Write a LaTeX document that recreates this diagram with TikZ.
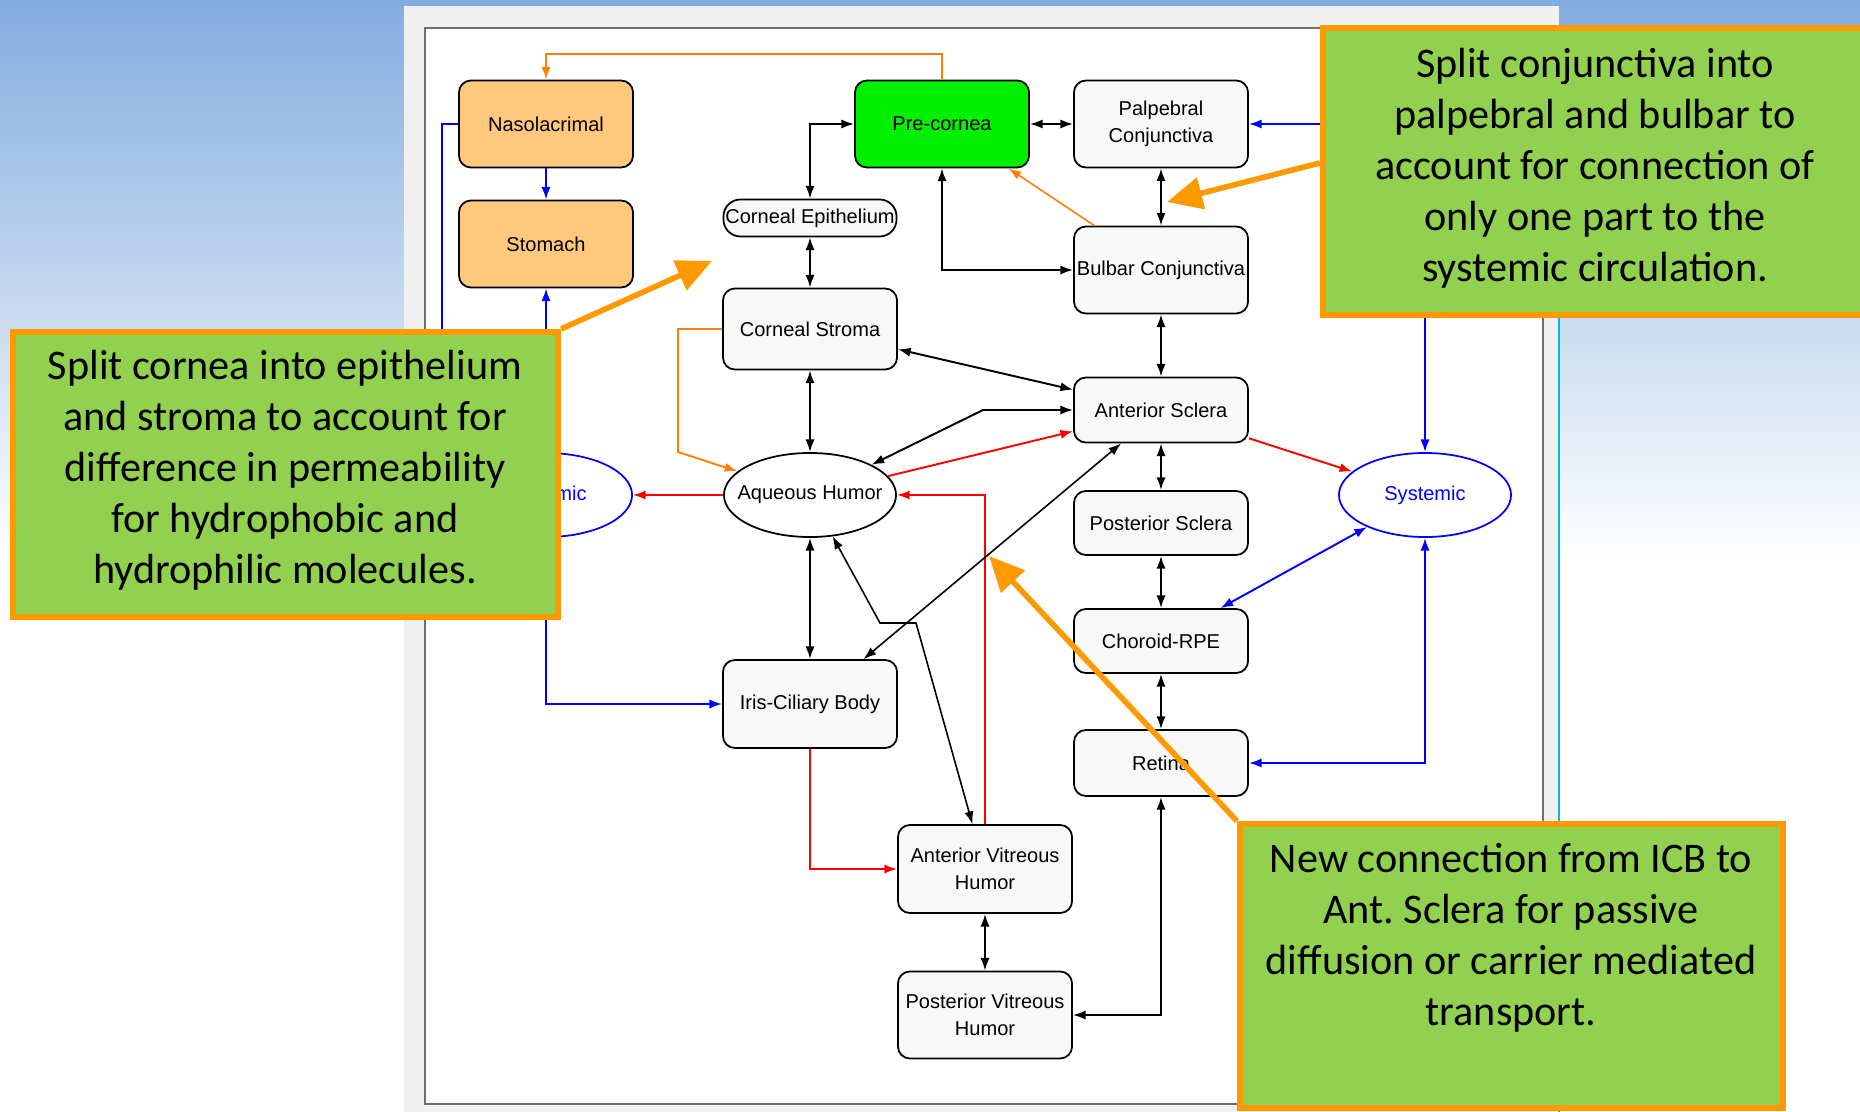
\documentclass[tikz,border=0pt]{standalone}
\usepackage{fontspec}
\setmainfont{Liberation Sans}
\newfontfamily\callfont{Carlito}
\usetikzlibrary{arrows.meta,shapes.geometric}
\definecolor{slideblue}{RGB}{131,172,223}
\definecolor{panelgray}{RGB}{240,240,240}
\definecolor{framegray}{RGB}{110,110,110}
\definecolor{boxfill}{RGB}{248,248,248}
\definecolor{nasofill}{RGB}{255,200,125}
\definecolor{precfill}{RGB}{0,240,0}
\definecolor{conorange}{RGB}{255,128,0}
\definecolor{callgreen}{RGB}{146,208,80}
\definecolor{callorange}{RGB}{255,153,0}
\definecolor{edgecyan}{RGB}{0,190,210}
\definecolor{sysblue}{RGB}{0,0,255}
\definecolor{conred}{RGB}{255,0,0}
\frenchspacing
\begin{document}
\begin{tikzpicture}[x=0.01cm,y=-0.01cm,
  comp/.style={draw=black,line width=0.5pt,rounded corners=0.12cm,fill=boxfill,
    minimum width=1.74cm,minimum height=0.87cm,inner sep=0pt,align=center,
    font=\fontsize{5.7}{7.6}\selectfont},
  oval/.style={ellipse,draw=black,line width=0.5pt,fill=white,minimum width=1.72cm,
    minimum height=0.84cm,inner sep=0pt,font=\fontsize{5.7}{7.6}\selectfont},
  sysoval/.style={oval,draw=sysblue,text=sysblue},
  con/.style={line width=0.55pt},
  thinline/.style={line width=0.45pt},
  hd/.style={-{Latex[length=3.6pt,width=2.6pt]}},
  dh/.style={{Latex[length=3.6pt,width=2.6pt]}-{Latex[length=3.6pt,width=2.6pt]}},
  callbox/.style={fill=callgreen,draw=callorange,line width=1.7pt,inner sep=0pt},
  calltext/.style={font=\callfont\fontsize{12}{14.5}\selectfont,align=center,inner sep=0pt},
  pointer/.style={draw=callorange,line width=1.6pt,-{Triangle[length=10pt,width=9pt]}}
]
\useasboundingbox (0,0) rectangle (1860,1112);
% slide background
\fill[white] (0,0) rectangle (1860,1112);
\shade[top color=slideblue,bottom color=white] (0,0) rectangle (1860,560);
% window panel
\fill[panelgray] (404,6) rectangle (1559,1112);
\draw[edgecyan,line width=0.4pt] (1559,315) -- (1559,1112);
\draw[framegray,line width=0.6pt,fill=white] (425,28) rectangle (1543,1104);

% compartments
\node[comp,fill=nasofill] (naso) at (546,124) {Nasolacrimal};
\node[comp,fill=nasofill] (stomach) at (546,244) {Stomach};
\node[comp,fill=precfill] (precornea) at (942,124) {Pre-cornea};
\node[comp] (palpebral) at (1161,124) {Palpebral\\Conjunctiva};
\node[comp,minimum height=0.37cm,minimum width=1.73cm,rounded corners=0.17cm] (epi) at (810,218) {Corneal Epithelium};
\node[comp] (bulbar) at (1161,270) {Bulbar Conjunctiva};
\node[comp,minimum height=0.81cm] (stroma) at (810,329) {Corneal Stroma};
\node[oval] (aqueous) at (810,495) {\makebox[0pt]{Aqueous Humor}};
\node[comp,minimum height=0.65cm] (antsclera) at (1161,410) {Anterior Sclera};
\node[comp,minimum height=0.64cm] (postsclera) at (1161,523) {Posterior Sclera};
\node[comp,minimum height=0.64cm] (choroid) at (1161,641) {Choroid-RPE};
\node[comp,minimum height=0.66cm] (retina) at (1161,763) {Retina};
\node[comp,minimum height=0.88cm] (icb) at (810,704) {Iris-Ciliary Body};
\node[comp,minimum height=0.88cm] (av) at (985,869) {Anterior Vitreous\\Humor};
\node[comp] (pv) at (985,1015) {Posterior Vitreous\\Humor};
\node[sysoval] (sysL) at (546,495) {\makebox[0pt]{Systemic}};
\node[sysoval] (sysR) at (1425,495) {\makebox[0pt]{Systemic}};

% connectors
\draw[con,conorange,hd] (precornea.north) -- (942,54) -| (naso.north);
\draw[con,sysblue,hd] (naso) -- (stomach);
\draw[con,sysblue,hd] (naso.west) -- (442,124) |- (sysL.west);
\draw[con,sysblue,hd] (sysL) -- (stomach);
\draw[con,sysblue,hd] (sysL.south) |- (icb.west);
\draw[con,conred,hd] (aqueous) -- (sysL);
\draw[con,dh] (precornea.west) -| (epi.north);
\draw[con,dh] (precornea.south) |- (bulbar.west);
\draw[thinline,conorange,hd] (bulbar) -- (precornea);
\draw[con,dh] (precornea) -- (palpebral);
\draw[con,dh] (palpebral) -- (bulbar);
\draw[con,sysblue,dh] (sysR.north) |- (palpebral.east);
\draw[con,dh] (epi) -- (stroma);
\draw[con,dh] (bulbar) -- (antsclera);
\draw[con,dh] (stroma) -- (antsclera);
\draw[con,conorange,hd] (stroma.west) -- (678,329) -- (678,452) -- (aqueous);
\draw[con,dh] (stroma) -- (aqueous);
\draw[con,dh] (antsclera.west) -- (983,410) -- (aqueous);
\draw[con,conred,hd] (aqueous) -- (antsclera);
\draw[con,conred,hd] (av.north) -- (985,495) -- (aqueous.east);
\draw[con,conred,hd] (antsclera) -- (sysR);
\draw[con,dh] (antsclera) -- (postsclera);
\draw[con,dh] (postsclera) -- (choroid);
\draw[con,sysblue,dh] (sysR) -- (choroid);
\draw[thinline,dh] (antsclera) -- (icb);
\draw[thinline,dh] (aqueous) -- (880,623) -- (916,623) -- (av);
\draw[con,dh] (aqueous) -- (icb);
\draw[con,conred,hd] (icb.south) |- (av.west);
\draw[con,dh] (av) -- (pv);
\draw[con,dh] (choroid) -- (retina);
\draw[con,dh] (retina.south) |- (pv.east);
\draw[con,sysblue,dh] (sysR.south) |- (retina.east);

% callouts
\node[callbox,minimum width=5.45cm,minimum height=2.85cm] (c1) at (285.5,474.5) {};
\node[calltext] (c1t) at (285,470) {Split cornea into epithelium\\and stroma to account for\\difference in permeability\\for hydrophobic and\\hydrophilic molecules.};
\coordinate (p1) at (712,261);
\draw[pointer] (c1.north east) -- (p1);

\node[callbox,minimum width=5.47cm,minimum height=2.87cm] (c2) at (1596.5,171.5) {};
\node[calltext] (c2t) at (1595,168) {Split conjunctiva into\\palpebral and bulbar to\\account for connection of\\only one part to the\\systemic circulation.};
\coordinate (p2) at (1167,202);
\draw[pointer] ([yshift=0.085cm]c2.west) -- (p2);

\node[callbox,minimum width=5.43cm,minimum height=2.84cm] (c3) at (1511.5,966) {};
\node[calltext] (c3t) at (1511,938) {New connection from ICB to\\Ant. Sclera for passive\\diffusion or carrier mediated\\transport.};
\coordinate (p3) at (989,556);
\draw[pointer] (c3.north west) -- (p3);
\end{tikzpicture}
\end{document}
